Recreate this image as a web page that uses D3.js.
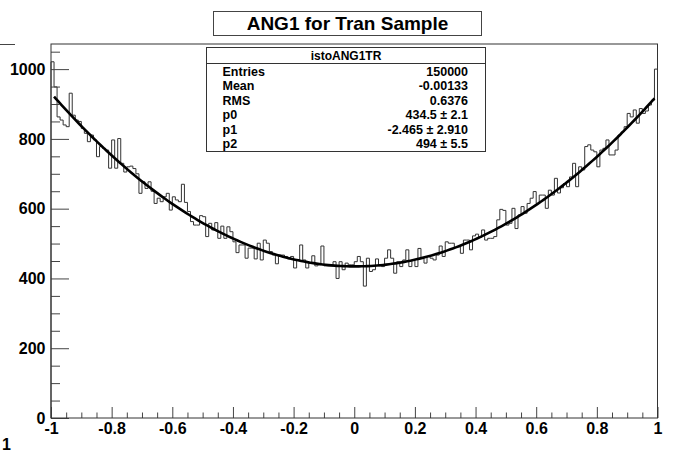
<!DOCTYPE html>
<html>
<head>
<meta charset="utf-8">
<script src="https://d3js.org/d3.v7.min.js"></script>
<style>
body { margin: 0; background: #fff; }
text { font-family: "Liberation Sans", Arial, sans-serif; font-weight: bold; }
</style>
</head>
<body>
<svg width="679" height="453"></svg>
<script>
// histogram istoANG1TR : 200 bins from -1 to 1
var binLow = -1, binHigh = 1;
var counts = [
 1021, 949, 863, 854, 840, 835, 931, 868, 854, 850,
 830, 816, 792, 811, 797, 749, 778, 773, 768, 716,
 797, 716, 801, 730, 705, 720, 722, 715, 700, 644,
 677, 658, 677, 650, 615, 630, 620, 634, 644, 596,
 634, 625, 620, 670, 618, 592, 563, 553, 553, 580,
 577, 520, 558, 539, 560, 515, 550, 515, 548, 534,
 505, 474, 496, 496, 458, 487, 487, 456, 501, 453,
 510, 501, 477, 467, 442, 467, 467, 463, 456, 463,
 430, 453, 496, 453, 430, 444, 465, 436, 439, 493,
 436, 436, 436, 448, 400, 448, 425, 444, 439, 439,
 448, 463, 448, 378, 458, 420, 425, 456, 436, 434,
 458, 482, 458, 415, 448, 434, 453, 482, 434, 453,
 434, 486, 458, 444, 463, 458, 453, 467, 493, 463,
 505, 501, 501, 489, 491, 472, 510, 510, 482, 522,
 527, 518, 539, 510, 515, 515, 520, 568, 598, 595,
 553, 558, 601, 543, 582, 606, 587, 615, 630, 649,
 615, 639, 639, 601, 653, 639, 687, 645, 660, 672,
 663, 691, 730, 663, 720, 711, 778, 783, 768, 763,
 720, 768, 773, 797, 754, 754, 768, 811, 820, 835,
 873, 863, 883, 845, 887, 873, 880, 897, 911, 1000
];

// pol2 fit parameters from the stats box
var p0 = 434.5, p1 = -2.465, p2 = 494;
var fitLow = -0.99, fitHigh = 0.99;

var xTickLabels = ["-1", "-0.8", "-0.6", "-0.4", "-0.2", "0", "0.2", "0.4", "0.6", "0.8", "1"];
var yTickLabels = ["0", "200", "400", "600", "800", "1000"];

var statsTitle = "istoANG1TR";
var statsNames = ["Entries", "Mean", "RMS", "p0", "p1", "p2"];
var statsValues = ["150000", "-0.00133", "0.6376", "434.5 \u00b1 2.1", "-2.465 \u00b1 2.910", "494 \u00b1 5.5"];
var title = "ANG1 for Tran Sample";

var svg = d3.select("svg");
var frameL = 51, frameR = 657.5, frameT = 44, frameB = 418;

var xScale = d3.scaleLinear().domain([binLow, binHigh]).range([frameL, frameR]);
var yScale = d3.scaleLinear().domain([0, 1072]).range([frameB, frameT]);

var nb = counts.length;
var bw = (binHigh - binLow) / nb;

// histogram outline
var pts = [[xScale(binLow), yScale(0)]];
counts.forEach(function (c, i) {
  var lo = binLow + i * bw, hi = lo + bw;
  pts.push([xScale(lo), yScale(c)]);
  pts.push([xScale(hi), yScale(c)]);
});
pts.push([xScale(binHigh), yScale(0)]);
svg.append("path")
  .attr("d", d3.line()(pts))
  .attr("fill", "none")
  .attr("stroke", "#333")
  .attr("stroke-width", 1);

// fit curve evaluated at the bin centres inside the fit range
var fitPts = counts.map(function (c, i) { return binLow + (i + 0.5) * bw; })
  .filter(function (x) { return x >= fitLow - 1e-9 && x <= fitHigh + 1e-9; })
  .map(function (x) { return [xScale(x), yScale(p0 + p1 * x + p2 * x * x)]; });
fitPts.unshift([xScale(fitLow), yScale(p0 + p1 * fitLow + p2 * fitLow * fitLow)]);
fitPts.push([xScale(fitHigh), yScale(p0 + p1 * fitHigh + p2 * fitHigh * fitHigh)]);
svg.append("path")
  .attr("d", d3.line()(fitPts))
  .attr("fill", "none")
  .attr("stroke", "#000")
  .attr("stroke-width", 2.6);

// axes
var yMajor = yTickLabels.map(Number);
var yMinor = d3.range(0, 1072, 50).filter(function (v) { return yMajor.indexOf(v) < 0; });
var xMajor = xTickLabels.map(Number);
var xMinor = d3.range(-20, 21, 1).map(function (k) { return k * 0.05; })
  .filter(function (v) { return xMajor.every(function (m) { return Math.abs(m - v) > 1e-6; }); });

svg.append("g").attr("transform", "translate(" + frameL + ",0)")
  .call(d3.axisLeft(yScale).tickValues(yMajor).tickSize(-18).tickPadding(5.5)
    .tickFormat(function (d, i) { return yTickLabels[i]; }));
svg.append("g").attr("transform", "translate(" + frameL + ",0)")
  .call(d3.axisLeft(yScale).tickValues(yMinor).tickSize(-9).tickFormat(""));

svg.append("g").attr("transform", "translate(0," + frameB + ")")
  .call(d3.axisBottom(xScale).tickValues(xMajor).tickSize(-11).tickPadding(5)
    .tickFormat(function (d, i) { return xTickLabels[i]; }));
svg.append("g").attr("transform", "translate(0," + frameB + ")")
  .call(d3.axisBottom(xScale).tickValues(xMinor).tickSize(-5.5).tickFormat(""));

svg.selectAll(".domain").remove();
svg.selectAll(".tick line").attr("stroke", "#444");
svg.selectAll(".tick text").attr("font-size", 16).attr("fill", "#000")
  .style("font-family", "Liberation Sans, Arial, sans-serif").style("font-weight", "bold");

// frame
svg.append("rect")
  .attr("x", frameL).attr("y", frameT)
  .attr("width", frameR - frameL).attr("height", frameB - frameT)
  .attr("fill", "none").attr("stroke", "#333").attr("stroke-width", 1);

// title box
svg.append("rect")
  .attr("x", 213.5).attr("y", 11.5).attr("width", 268).attr("height", 24)
  .attr("fill", "#fff").attr("stroke", "#444");
svg.append("text")
  .attr("x", 347.5).attr("y", 30)
  .attr("text-anchor", "middle").attr("font-size", 19)
  .text(title);

// stats box
var sx = 206.5, sy = 47.5, sw = 279, sh = 104;
svg.append("rect")
  .attr("x", sx).attr("y", sy).attr("width", sw).attr("height", sh)
  .attr("fill", "#fff").attr("stroke", "#333");
svg.append("line")
  .attr("x1", sx).attr("x2", sx + sw).attr("y1", 63.5).attr("y2", 63.5)
  .attr("stroke", "#333");
svg.append("text")
  .attr("x", sx + sw / 2).attr("y", 60)
  .attr("text-anchor", "middle").attr("font-size", 12)
  .text(statsTitle);
statsNames.forEach(function (n, i) {
  var yy = 75.5 + i * 14.5;
  svg.append("text").attr("x", 222.5).attr("y", yy).attr("font-size", 12.5).text(n);
  svg.append("text").attr("x", 468).attr("y", yy).attr("font-size", 12.5)
    .attr("text-anchor", "end").text(statsValues[i]);
});

// bits of the neighbouring pad at the left edge
svg.append("line").attr("x1", 0).attr("x2", 15).attr("y1", 44.5).attr("y2", 44.5)
  .attr("stroke", "#444");
svg.append("text").attr("x", 2).attr("y", 450).attr("font-size", 16).text("1");
</script>
</body>
</html>
